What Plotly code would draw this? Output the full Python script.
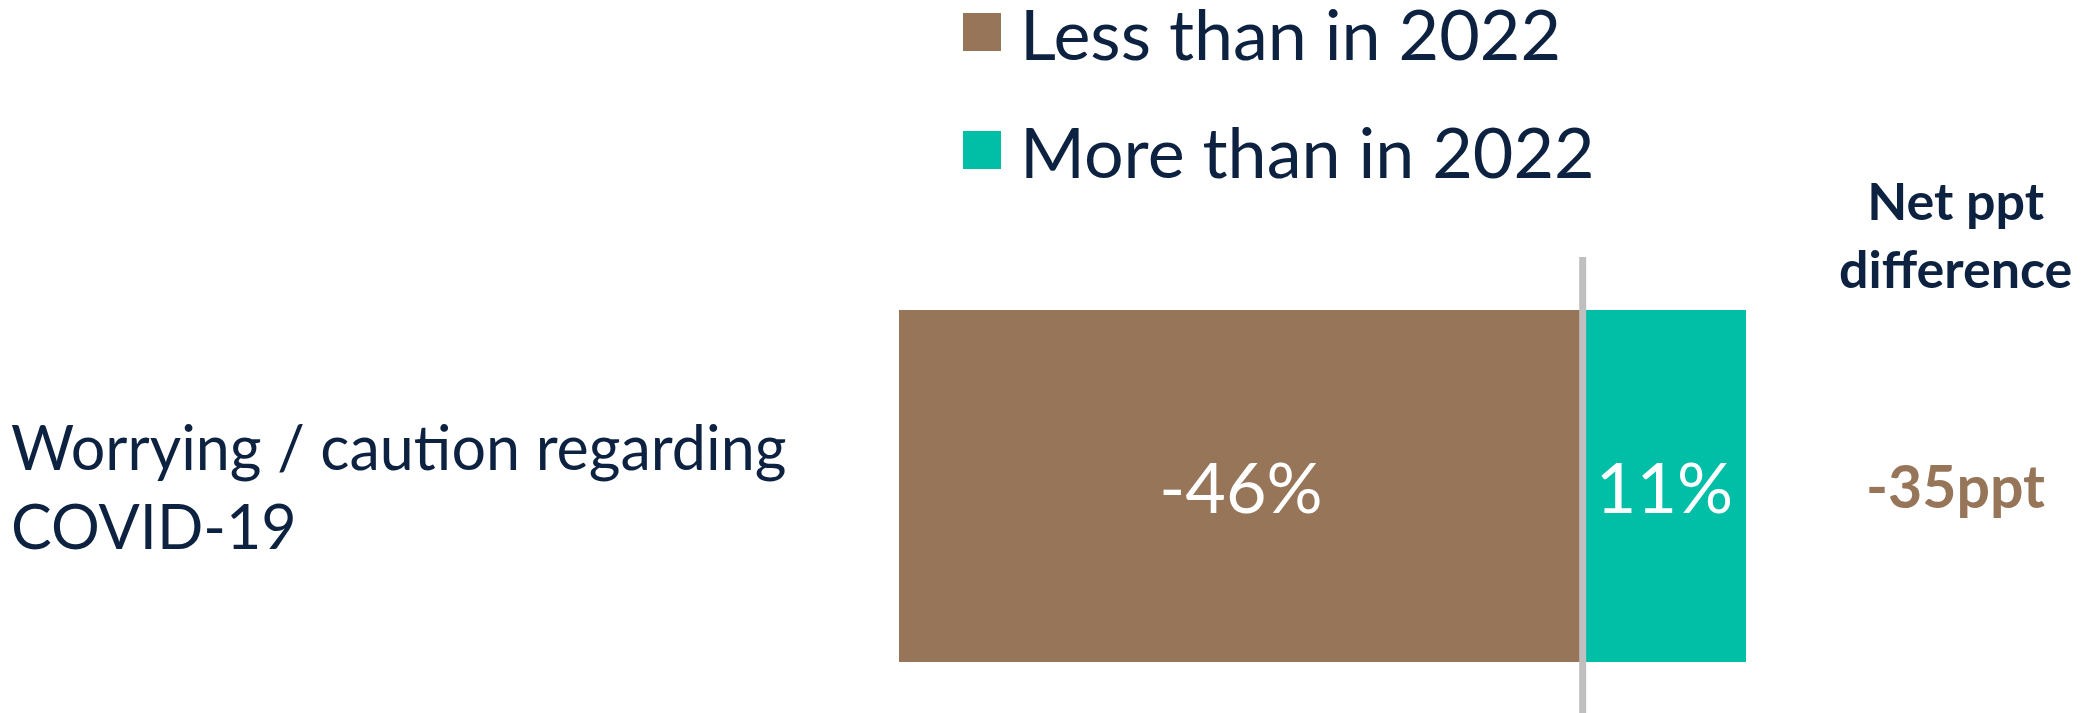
import plotly.graph_objects as go

# Data
categories = ["Worrying / caution regarding COVID-19"]
series_names = ["Less than in 2022", "More than in 2022"]
less_values = [-46]
more_values = [11]
net_header = "Net ppt<br>difference"

BROWN = "#967559"
TEAL = "#00BFA6"
NAVY = "#0D2240"
FONT = "Lato"

net_values = [a + b for a, b in zip(less_values, more_values)]

fig = go.Figure()
for name, vals, color in [(series_names[0], less_values, BROWN),
                          (series_names[1], more_values, TEAL)]:
    fig.add_trace(go.Bar(
        y=categories, x=vals, orientation="h", name=name,
        marker=dict(color=color, line=dict(width=0)),
        width=0.8,
        text=[f"{v}%" for v in vals],
        textposition="inside", insidetextanchor="middle",
        constraintext="none",
        textfont=dict(family=FONT, size=70, color="white"),
        showlegend=False, hoverinfo="skip",
    ))

W, H = 2082, 713

def px(x):
    return x / W

def py(y):
    return 1 - y / H

# zero divider line
fig.add_shape(type="line", xref="x", yref="paper", x0=0, x1=0,
              y0=0, y1=py(257), line=dict(color="#BFBFBF", width=7),
              layer="above")

# manual legend
for i, (name, color) in enumerate(zip(series_names, [BROWN, TEAL])):
    top = 13 + i * 118
    fig.add_shape(type="rect", xref="paper", yref="paper",
                  x0=px(963), x1=px(1001), y0=py(top + 38), y1=py(top),
                  fillcolor=color, line=dict(width=0))
    fig.add_annotation(xref="paper", yref="paper", x=px(1018), y=py(top + 20),
                       text=name, showarrow=False, xanchor="left", yanchor="middle",
                       font=dict(family=FONT, size=70, color=NAVY))

# category label
label = categories[0].replace("regarding ", "regarding<br>")
fig.add_annotation(xref="paper", yref="y", x=px(9), y=categories[0],
                   text=label, showarrow=False, xanchor="left", yanchor="middle",
                   align="left", font=dict(family=FONT, size=61, color=NAVY))

# net difference column
fig.add_annotation(xref="paper", yref="paper", x=px(1955), y=py(234),
                   text=f"<b>{net_header}</b>", showarrow=False,
                   xanchor="center", yanchor="middle", align="center",
                   font=dict(family=FONT, size=52, color=NAVY))
fig.add_annotation(xref="paper", yref="y", x=px(1955), y=categories[0],
                   text=f"<b>{net_values[0]}ppt</b>", showarrow=False,
                   xanchor="center", yanchor="middle",
                   font=dict(family=FONT, size=59, color=BROWN))

fig.update_layout(
    width=W, height=H,
    margin=dict(l=0, r=0, t=0, b=0),
    paper_bgcolor="white", plot_bgcolor="white",
    barmode="relative", bargap=0,
    xaxis=dict(range=[-106.5, 33.6], visible=False, fixedrange=True),
    yaxis=dict(range=[-0.516, 1.1045], visible=False, fixedrange=True),
)

fig.write_html("out.html")
